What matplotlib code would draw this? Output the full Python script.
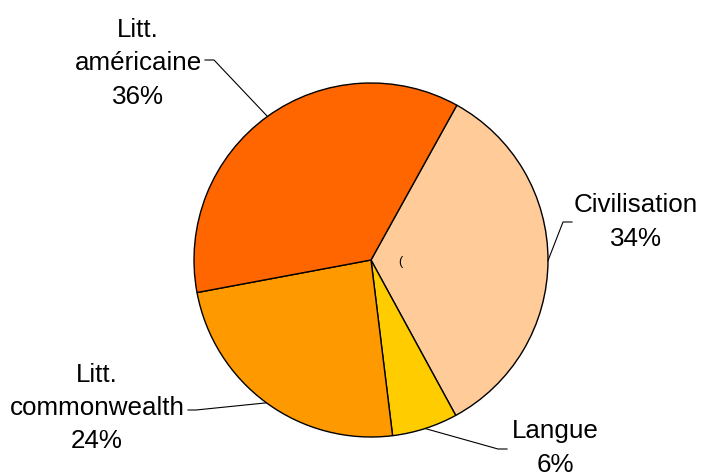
import numpy as np
import matplotlib.pyplot as plt

labels = ['Civilisation', 'Langue', 'Litt.\ncommonwealth', 'Litt.\naméricaine']
values = [34, 6, 24, 36]
colors = ['#FFCC99', '#FFCC00', '#FF9900', '#FF6600']

plt.rcParams['font.family'] = ['Liberation Sans', 'DejaVu Sans']

W, H = 706, 474
fig = plt.figure(figsize=(W / 100, H / 100), dpi=100)
ax = fig.add_axes([0, 0, 1, 1])

cx, cy, r = 371, H - 260, 177
wedges, _ = ax.pie(values, colors=colors, startangle=61, counterclock=False,
                   center=(cx, cy), radius=r, frame=True,
                   wedgeprops=dict(edgecolor='black', linewidth=1.0))
ax.set_xlim(0, W)
ax.set_ylim(0, H)
ax.set_aspect('equal')
ax.axis('off')

# label position, elbow and line end (pixel coords from top)
lab_pos = [(636, 222), (555, 448), (97, 408), (138, 63)]
elbows = [(563, 222), (498, 449), (196, 410), (214, 60)]
ends = [(572, 222), (507, 449), (188, 410), (205, 60)]

for w, lab, v, tp, el, en in zip(wedges, labels, values, lab_pos, elbows, ends):
    mid = np.deg2rad((w.theta1 + w.theta2) / 2)
    ex, ey = cx + r * np.cos(mid), cy + r * np.sin(mid)
    ax.plot([ex, el[0], en[0]], [ey, H - el[1], H - en[1]], color='black', lw=0.8)
    ax.text(tp[0], H - tp[1], f'{lab}\n{v}%', ha='center', va='center',
            fontsize=18.7, linespacing=1.5)

ax.text(400, H - 262, '(', ha='center', va='center', fontsize=9)

fig.savefig('out.png', dpi=100)
